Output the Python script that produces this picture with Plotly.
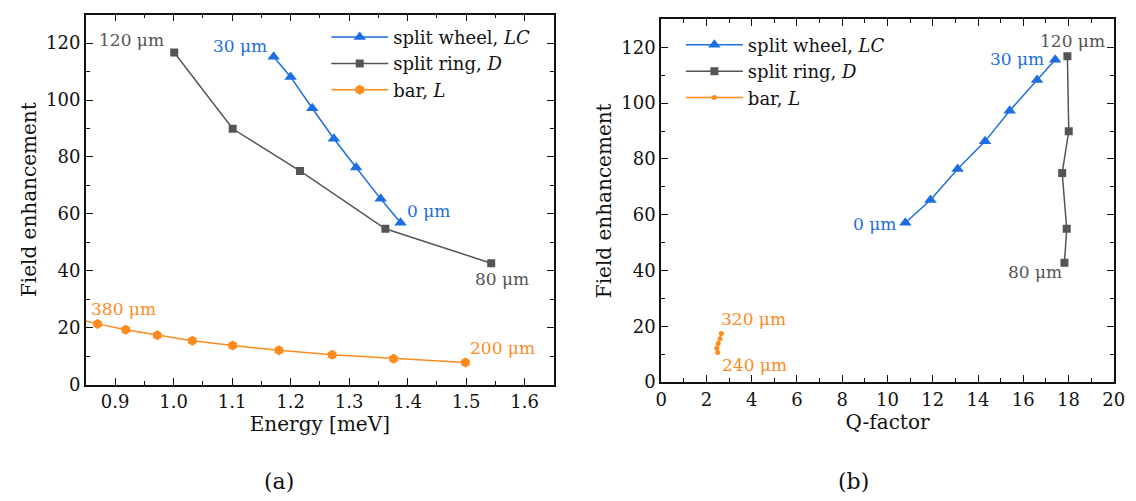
import plotly.graph_objects as go

# ---- data ----
# panel (a): field enhancement vs resonance energy
wheel_energy = [1.171, 1.200, 1.237, 1.274, 1.312, 1.354, 1.388]
wheel_fe = [115.2, 108.1, 97.1, 86.4, 76.3, 65.3, 56.9]
ring_energy = [1.001, 1.101, 1.216, 1.362, 1.543]
ring_fe = [116.7, 89.9, 75.1, 54.8, 42.7]
bar_energy = [0.83, 0.870, 0.918, 0.972, 1.032, 1.101, 1.180, 1.271, 1.376, 1.499]
bar_fe = [23.5, 21.4, 19.3, 17.4, 15.5, 13.8, 12.1, 10.6, 9.2, 7.8]

# panel (b): field enhancement vs Q-factor
wheel_q = [10.79, 11.90, 13.10, 14.31, 15.40, 16.61, 17.41]
wheel_fe_b = [57.1, 65.3, 76.4, 86.3, 97.3, 108.3, 115.6]
ring_q = [17.95, 18.01, 17.72, 17.92, 17.82]
ring_fe_b = [116.8, 89.9, 75.0, 55.0, 42.8]
bar_q = [2.66, 2.60, 2.52, 2.46, 2.50]
bar_fe_b = [17.4, 15.5, 13.8, 12.1, 10.6]

series_names = ["split wheel, <i>LC</i>", "split ring, <i>D</i>", "bar, <i>L</i>"]

# annotation labels: (text, x, y, xanchor, series index)
labels_a = [
    ("120 μm", 0.987, 121.0, "right", 1),
    ("30 μm", 1.163, 119.0, "right", 0),
    ("0 μm", 1.396, 61.0, "left", 0),
    ("80 μm", 1.512, 37.0, "left", 1),
    ("380 μm", 0.856, 26.5, "left", 2),
    ("200 μm", 1.504, 13.0, "left", 2),
]
labels_b = [
    ("120 μm", 19.7, 122.3, "right", 1),
    ("30 μm", 17.0, 116.0, "right", 0),
    ("0 μm", 10.46, 56.5, "right", 0),
    ("80 μm", 17.8, 39.3, "right", 1),
    ("320 μm", 2.56, 22.7, "left", 2),
    ("240 μm", 2.59, 6.2, "left", 2),
]

# ---- styles ----
BLUE = "#1c6fe0"
GREY = "#555555"
ORANGE = "#ff8a1e"
colors = [BLUE, GREY, ORANGE]
FONT = "DejaVu Serif"
W, H = 1136, 501

fig = go.Figure()

# panel (a)
fig.add_trace(go.Scatter(x=wheel_energy, y=wheel_fe, mode="lines+markers", name=series_names[0],
                         line=dict(color=BLUE, width=1.5),
                         marker=dict(symbol="triangle-up", size=11, color=BLUE),
                         xaxis="x", yaxis="y", legend="legend", legendgroup="a0"))
fig.add_trace(go.Scatter(x=ring_energy, y=ring_fe, mode="lines+markers", name=series_names[1],
                         line=dict(color=GREY, width=1.5),
                         marker=dict(symbol="square", size=8, color=GREY),
                         xaxis="x", yaxis="y", legend="legend", legendgroup="a1"))
fig.add_trace(go.Scatter(x=bar_energy, y=bar_fe, mode="lines+markers", name=series_names[2],
                         line=dict(color=ORANGE, width=1.5),
                         marker=dict(symbol="hexagon", size=10, color=ORANGE),
                         xaxis="x", yaxis="y", legend="legend", legendgroup="a2"))

# panel (b)
fig.add_trace(go.Scatter(x=wheel_q, y=wheel_fe_b, mode="lines+markers", name=series_names[0],
                         line=dict(color=BLUE, width=1.5),
                         marker=dict(symbol="triangle-up", size=11, color=BLUE),
                         xaxis="x2", yaxis="y2", legend="legend2", legendgroup="b0"))
fig.add_trace(go.Scatter(x=ring_q, y=ring_fe_b, mode="lines+markers", name=series_names[1],
                         line=dict(color=GREY, width=1.5),
                         marker=dict(symbol="square", size=8, color=GREY),
                         xaxis="x2", yaxis="y2", legend="legend2", legendgroup="b1"))
fig.add_trace(go.Scatter(x=bar_q, y=bar_fe_b, mode="lines+markers", name=series_names[2],
                         line=dict(color=ORANGE, width=1.5),
                         marker=dict(symbol="circle", size=5, color=ORANGE),
                         xaxis="x2", yaxis="y2", legend="legend2", legendgroup="b2"))

annotations = []
for text, x, y, xa, si in labels_a:
    annotations.append(dict(text=text, x=x, y=y, xref="x", yref="y", xanchor=xa, yanchor="middle",
                            showarrow=False, font=dict(family=FONT, size=17, color=colors[si])))
for text, x, y, xa, si in labels_b:
    annotations.append(dict(text=text, x=x, y=y, xref="x2", yref="y2", xanchor=xa, yanchor="middle",
                            showarrow=False, font=dict(family=FONT, size=17, color=colors[si])))
annotations.append(dict(text="(a)", x=269 / W, y=1 - 483 / H, xref="paper", yref="paper",
                        xanchor="center", yanchor="middle",
                        showarrow=False, font=dict(family=FONT, size=22, color="#111")))
annotations.append(dict(text="(b)", x=852 / W, y=1 - 483 / H, xref="paper", yref="paper",
                        xanchor="center", yanchor="middle",
                        showarrow=False, font=dict(family=FONT, size=22, color="#111")))

axis_common = dict(showline=True, linecolor="#111", linewidth=1.8, mirror="allticks",
                   ticks="inside", ticklen=7, tickwidth=1.4, tickcolor="#111",
                   showgrid=False, zeroline=False,
                   tickfont=dict(family=FONT, size=18, color="#111"))
minor_common = dict(ticks="inside", ticklen=4, tickwidth=1.2, tickcolor="#111")

fig.update_layout(
    width=W, height=H,
    margin=dict(l=0, r=0, t=0, b=0),
    paper_bgcolor="white", plot_bgcolor="white",
    font=dict(family=FONT, size=18, color="#111"),
    showlegend=True,
    xaxis=dict(**axis_common, domain=[73 / W, 548 / W], range=[0.85, 1.65], dtick=0.1, tick0=0.9,
               tickformat=".1f", anchor="y",
               minor=dict(**minor_common, dtick=0.05, tick0=0.85),
               title=dict(text="Energy [meV]", font=dict(family=FONT, size=20), standoff=4)),
    yaxis=dict(**axis_common, domain=[1 - 384.5 / H, 1 - 6.7 / H], range=[0, 130], dtick=20, anchor="x",
               minor=dict(**minor_common, dtick=10),
               title=dict(text="Field enhancement", font=dict(family=FONT, size=20), standoff=4)),
    xaxis2=dict(**axis_common, domain=[657 / W, 1116.5 / W], range=[0, 20], dtick=2, anchor="y2",
                minor=dict(**minor_common, dtick=1),
                title=dict(text="Q-factor", font=dict(family=FONT, size=20), standoff=4)),
    yaxis2=dict(**axis_common, domain=[1 - 381.7 / H, 1 - 11.7 / H], range=[0, 130], dtick=20, anchor="x2",
                minor=dict(**minor_common, dtick=10),
                title=dict(text="Field enhancement", font=dict(family=FONT, size=20), standoff=4)),
    legend=dict(x=317 / W, y=1 - 11 / H, xanchor="left", yanchor="top", bgcolor="rgba(0,0,0,0)",
                font=dict(family=FONT, size=18, color="#111"), itemwidth=57, tracegroupgap=8,
                traceorder="normal"),
    legend2=dict(x=677 / W, y=1 - 19 / H, xanchor="left", yanchor="top", bgcolor="rgba(0,0,0,0)",
                 font=dict(family=FONT, size=18, color="#111"), itemwidth=57, tracegroupgap=8,
                 traceorder="normal"),
    annotations=annotations,
)

fig.write_html("out.html")
